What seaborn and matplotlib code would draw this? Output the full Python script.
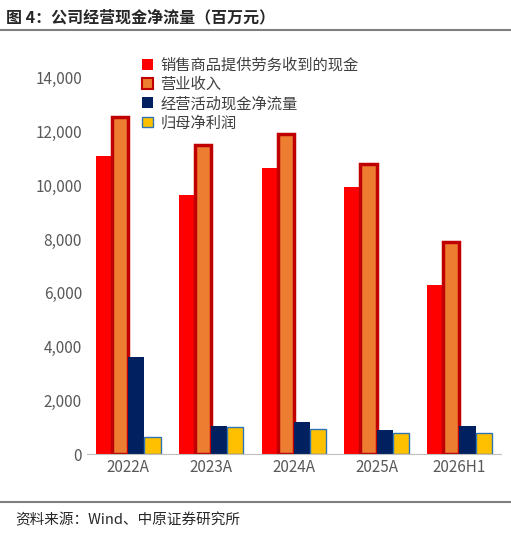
import pandas as pd
import matplotlib.pyplot as plt
import seaborn as sns

years = ['2022A', '2023A', '2024A', '2025A', '2026H1']
series = ['销售商品提供劳务收到的现金', '营业收入', '经营活动现金净流量', '归母净利润']
cash_recv = [11100, 9650, 10650, 9950, 6300]
revenue = [12550, 11500, 11900, 10800, 7900]
op_cf = [3600, 1050, 1200, 900, 1050]
net_profit = [650, 1000, 930, 800, 780]

rows = []
for s, vals in zip(series, [cash_recv, revenue, op_cf, net_profit]):
    for y, v in zip(years, vals):
        rows.append({'year': y, 'series': s, 'value': v})
df = pd.DataFrame(rows)

sns.set_style('white')
plt.rcParams['font.family'] = ['Noto Sans CJK SC', 'DejaVu Sans']

fills = ['#ff0000', '#ed7d31', '#002060', '#ffc000']
edges = ['#ff0000', '#c00000', '#002060', '#2e75b6']
lws = [0, 2.5, 0, 1.0]

fig = plt.figure(figsize=(5.11, 5.35), dpi=100)
ax = fig.add_axes([0.17, 0.151, 0.81, 0.754])
sns.barplot(data=df, x='year', y='value', hue='series', palette=fills,
            saturation=1, width=0.78, ax=ax, legend=True)
for cont, ec, lw in zip(ax.containers, edges, lws):
    for b in cont:
        b.set_edgecolor(ec)
        b.set_linewidth(lw)

ax.set_ylim(0, 15000)
ax.set_yticks(range(0, 14001, 2000))
ax.set_yticklabels([f'{v:,}' for v in range(0, 14001, 2000)], color='#595959', fontsize=11)
ax.tick_params(axis='x', colors='#595959', labelsize=11, length=0)
ax.tick_params(axis='y', length=0)
ax.set_xlabel('')
ax.set_ylabel('')
for sp in ['top', 'right', 'left']:
    ax.spines[sp].set_visible(False)
ax.spines['bottom'].set_color('#bfbfbf')

leg = ax.legend(loc='upper left', bbox_to_anchor=(0.1, 1.02), frameon=False,
                fontsize=11, handlelength=0.7, handleheight=0.7,
                labelspacing=0.15, handletextpad=0.5)
for t in leg.get_texts():
    t.set_color('#404040')
for h, ec, lw in zip(leg.legend_handles, edges, lws):
    h.set_edgecolor(ec)
    h.set_linewidth(min(lw, 1.5))

fig.text(0.012, 0.968, '图 4：公司经营现金净流量（百万元）', fontsize=11.5,
         fontweight='bold', va='center')
fig.add_artist(plt.Line2D([0.0, 1.0], [0.944, 0.944], color='#7f7f7f', lw=1.5))
fig.add_artist(plt.Line2D([0.0, 1.0], [0.062, 0.062], color='#7f7f7f', lw=1.5))
fig.text(0.03, 0.028, '资料来源：Wind、中原证券研究所', fontsize=10.5, va='center')

fig.savefig('out.png', dpi=100)
